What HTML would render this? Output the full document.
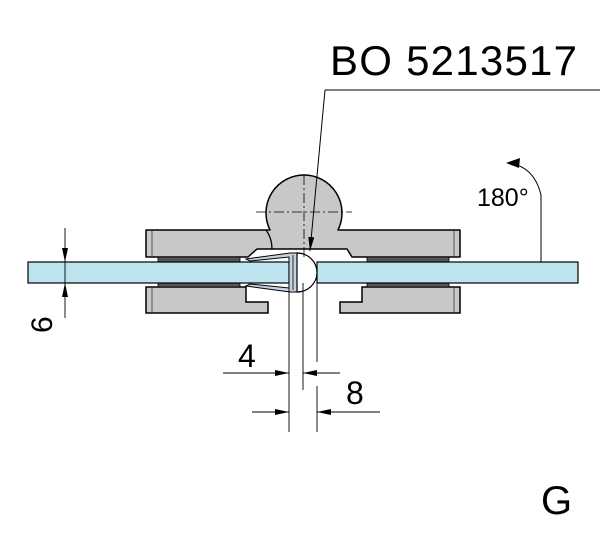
<!DOCTYPE html>
<html><head><style>body{margin:0;background:#fff}</style></head><body>
<svg width="600" height="543" viewBox="0 0 600 543" xmlns="http://www.w3.org/2000/svg" font-family="Liberation Sans, sans-serif">
<defs><marker id="a" markerWidth="14" markerHeight="6" refX="14" refY="3" orient="auto" markerUnits="userSpaceOnUse"><path d="M0,0L14,3L0,6z" fill="#000"/></marker></defs>
<!-- top plate + knuckle -->
<path d="M146,230 H270 A38,38 0 1 1 338,230 H460 V257 H352 L347,249 H257 L248,257 H146 Z" fill="#c8c8c8" stroke="#000" stroke-width="1.5" stroke-linejoin="round"/>
<path d="M266,230 Q272,238 272,249" fill="none" stroke="#000" stroke-width="1.3"/>
<line x1="152" y1="231" x2="152" y2="256" stroke="#555"/><line x1="454" y1="231" x2="454" y2="256" stroke="#555"/>
<!-- bottom plates -->
<path d="M146,287 H246 V302 H268 V313 H146 Z" fill="#c8c8c8" stroke="#000" stroke-width="1.5"/>
<path d="M460,287 H362 V302 H340 V313 H460 Z" fill="#c8c8c8" stroke="#000" stroke-width="1.5"/>
<line x1="152" y1="288" x2="152" y2="312" stroke="#555"/><line x1="454" y1="288" x2="454" y2="312" stroke="#555"/>
<!-- gaskets -->
<rect x="158" y="257" width="82" height="5" fill="#555" stroke="#000" stroke-width=".8"/>
<rect x="158" y="283" width="82" height="4" fill="#555" stroke="#000" stroke-width=".8"/>
<rect x="367" y="257" width="82" height="5" fill="#555" stroke="#000" stroke-width=".8"/>
<rect x="367" y="283" width="82" height="4" fill="#555" stroke="#000" stroke-width=".8"/>
<!-- glass -->
<rect x="28" y="262" width="261" height="21" fill="#bde3ef" stroke="#000" stroke-width="1.2"/>
<rect x="317" y="262" width="261" height="21" fill="#bde3ef" stroke="#000" stroke-width="1.2"/>
<!-- seal profile -->
<path d="M246,259 L290,253 H297 V292 H290 L246,286 L250,284 L289,288 V257 L250,261 Z" fill="#c5d2e2" stroke="#000" stroke-width="1"/>
<path d="M297,253 A20,19.5 0 0 1 297,292 Z" fill="#fff" stroke="#000" stroke-width="1.2"/>
<line x1="293" y1="255" x2="293" y2="290" stroke="#000" stroke-width=".8"/>
<!-- center lines -->
<line x1="304" y1="175" x2="304" y2="258" stroke="#000" stroke-width=".8" stroke-dasharray="10,3,2,3"/>
<line x1="256" y1="212" x2="352" y2="212" stroke="#000" stroke-width=".8" stroke-dasharray="10,3,2,3"/>
<!-- dim lines vertical -->
<line x1="289" y1="283" x2="289" y2="432" stroke="#000" stroke-width=".9"/>
<line x1="303" y1="283" x2="303" y2="390" stroke="#000" stroke-width=".9"/>
<line x1="317" y1="283" x2="317" y2="362" stroke="#000" stroke-width=".9"/>
<line x1="317" y1="386" x2="317" y2="432" stroke="#000" stroke-width=".9"/>
<line x1="223" y1="373" x2="289" y2="373" stroke="#000" stroke-width=".9" marker-end="url(#a)"/>
<line x1="340" y1="373" x2="303" y2="373" stroke="#000" stroke-width=".9" marker-end="url(#a)"/>
<line x1="252" y1="412" x2="289" y2="412" stroke="#000" stroke-width=".9" marker-end="url(#a)"/>
<line x1="380" y1="412" x2="317" y2="412" stroke="#000" stroke-width=".9" marker-end="url(#a)"/>
<text x="238" y="367" font-size="32">4</text>
<text x="346" y="404" font-size="32">8</text>
<!-- 6 dim -->
<line x1="65" y1="228" x2="65" y2="262" stroke="#000" stroke-width=".9" marker-end="url(#a)"/>
<line x1="65" y1="318" x2="65" y2="283" stroke="#000" stroke-width=".9" marker-end="url(#a)"/>
<line x1="65" y1="262" x2="65" y2="283" stroke="#000" stroke-width=".9"/>
<text x="0" y="0" font-size="30" transform="translate(52,333) rotate(-90)">6</text>
<!-- label -->
<text x="330" y="75" font-size="42" letter-spacing="1" textLength="248">BO 5213517</text>
<line x1="325" y1="90" x2="600" y2="90" stroke="#000" stroke-width="1"/>
<line x1="325" y1="90" x2="310" y2="251" stroke="#000" stroke-width="1" marker-end="url(#a)"/>
<!-- 180 -->
<text x="477" y="206" font-size="25">180°</text>
<path d="M508,163 Q534,166 541,195 V262" fill="none" stroke="#000" stroke-width="1"/>
<path d="M506,163 L520,158 L519,168 Z" fill="#000"/>
<text x="541" y="514" font-size="40">G</text>
</svg>
</body></html>
